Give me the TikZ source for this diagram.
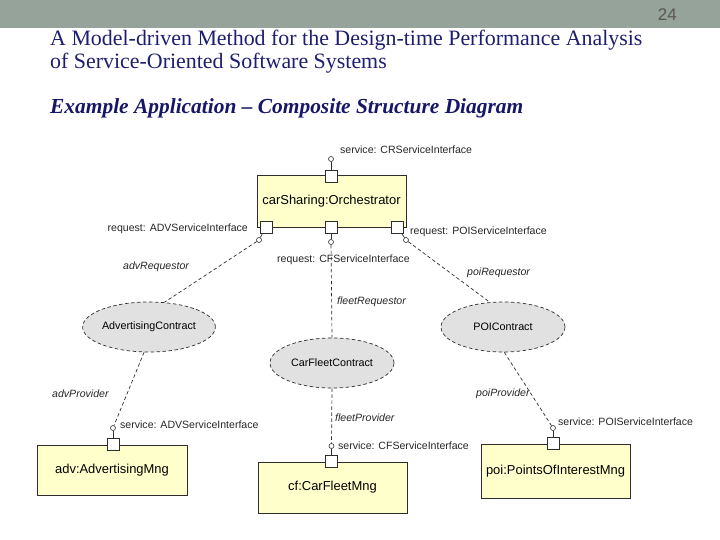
\documentclass[tikz,border=0pt]{standalone}
\usepackage{fontspec}
\setmainfont{Liberation Serif}
\setsansfont{Liberation Sans}
\usetikzlibrary{shapes.geometric}
\definecolor{band}{RGB}{150,163,154}
\definecolor{navy}{RGB}{30,30,112}
\definecolor{navydark}{RGB}{22,22,105}
\definecolor{boxfill}{RGB}{255,255,204}
\definecolor{ellfill}{RGB}{225,225,225}
\definecolor{linegray}{RGB}{45,45,45}
\definecolor{pgnum}{RGB}{90,86,82}
\begin{document}
\begin{tikzpicture}[x=1bp,y=-1bp,
  titletext/.style={anchor=west,inner sep=0pt,text=navy,font=\fontsize{22}{24}\selectfont},
  subtitletext/.style={anchor=west,inner sep=0pt,text=navydark,font=\bfseries\itshape\fontsize{21.5}{24}\selectfont},
  pagenum/.style={anchor=east,inner sep=0pt,text=pgnum,font=\sffamily\fontsize{17}{19}\selectfont},
  comp/.style={draw=linegray,fill=boxfill,line width=0.7bp,inner sep=0pt,
    font=\sffamily\fontsize{13}{15}\selectfont},
  port/.style={draw=linegray,fill=white,line width=0.7bp,inner sep=0pt,
    minimum width=12bp,minimum height=12bp},
  iface/.style={circle,draw=linegray,fill=white,line width=0.6bp,inner sep=0pt,minimum size=5bp},
  contract/.style={ellipse,draw=linegray,fill=ellfill,line width=0.7bp,dash pattern=on 3.5bp off 2.5bp,
    minimum width=124bp,minimum height=50bp,inner sep=0pt,font=\sffamily\fontsize{10.8}{12}\selectfont},
  lbl/.style={inner sep=0pt,text=black!85,font=\sffamily\fontsize{10.6}{12}\selectfont},
  rolelbl/.style={inner sep=0pt,text=black!85,font=\sffamily\itshape\fontsize{10.6}{12}\selectfont},
  stem/.style={draw=linegray,line width=0.7bp},
  conn/.style={draw=linegray,line width=0.7bp,dash pattern=on 3.5bp off 2.5bp}
]
\useasboundingbox (0,0) rectangle (720,540);
\fill[band] (0,0) rectangle (720,28);
\node[pagenum] (pg) at (677,14.5) {24};

\node[titletext] (t1) at (50,40) {A Model-driven Method for the Design-time Performance Analysis};
\node[titletext] (t2) at (50,63) {of Service-Oriented Software Systems};
\node[subtitletext] (t3) at (50,108) {Example Application -- Composite Structure Diagram};

% components
\node[comp,minimum width=149bp,minimum height=52bp] (orch) at (331.5,201) {carSharing:Orchestrator};
\node[comp,minimum width=150bp,minimum height=50bp] (adv) at (112,470) {adv:AdvertisingMng};
\node[comp,minimum width=149bp,minimum height=51bp] (cf) at (332.5,487.5) {cf:CarFleetMng};
\node[comp,minimum width=149bp,minimum height=54bp] (poi) at (555.5,471) {poi:PointsOfInterestMng};

% ports
\node[port] (pTop) at (331,176) {};
\node[port] (pL) at (266,227) {};
\node[port] (pM) at (331,227) {};
\node[port] (pR) at (397.5,227) {};
\node[port] (pAdv) at (113,444) {};
\node[port] (pCf) at (331.5,461) {};
\node[port] (pPoi) at (553,443.5) {};

% interface circles
\node[iface] (cTop) at (331,159) {};
\node[iface] (cL) at (259,240) {};
\node[iface] (cM) at (331,242) {};
\node[iface] (cR) at (406,240) {};
\node[iface] (cAdv) at (113,428) {};
\node[iface] (cCf) at (331.5,446) {};
\node[iface] (cPoi) at (553,428) {};

\draw[stem] (pTop) -- (cTop);
\draw[stem] (pL) -- (cL);
\draw[stem] (pM) -- (cM);
\draw[stem] (pR) -- (cR);
\draw[stem] (pAdv) -- (cAdv);
\draw[stem] (pCf) -- (cCf);
\draw[stem] (pPoi) -- (cPoi);

% contracts
\node[contract] (advc) at (149,327) {AdvertisingContract};
\node[contract] (cfc) at (332,363) {CarFleetContract};
\node[contract] (poic) at (503,327) {POIContract};

% connectors
\draw[conn] (cL) -- (advc.58);
\draw[conn] (cM) -- (cfc.north);
\draw[conn] (cR) -- (poic.118);
\draw[conn] (advc.-101) -- (cAdv);
\draw[conn] (cfc.south) -- (cCf);
\draw[conn] (poic.-87) -- (cPoi);

% labels
\node[lbl,anchor=west] (lTop) at (340,150) {service: CRServiceInterface};
\node[lbl,anchor=east] (lL) at (248,229) {request: ADVServiceInterface};
\node[lbl,anchor=west] (lR) at (410,232) {request: POIServiceInterface};
\node[lbl,anchor=west] (lM) at (277,260) {request: CFServiceInterface};
\node[rolelbl,anchor=west] (rAdvReq) at (123,267) {advRequestor};
\node[rolelbl,anchor=west] (rPoiReq) at (467,273) {poiRequestor};
\node[rolelbl,anchor=west] (rFleetReq) at (337,302) {fleetRequestor};
\node[rolelbl,anchor=west] (rAdvProv) at (52,394) {advProvider};
\node[rolelbl,anchor=west] (rPoiProv) at (476,394) {poiProvider};
\node[rolelbl,anchor=west] (rFleetProv) at (335,418) {fleetProvider};
\node[lbl,anchor=west] (lAdv) at (120,425) {service: ADVServiceInterface};
\node[lbl,anchor=west] (lCf) at (338,446) {service: CFServiceInterface};
\node[lbl,anchor=west] (lPoi) at (558,422) {service: POIServiceInterface};
\end{tikzpicture}
\end{document}
